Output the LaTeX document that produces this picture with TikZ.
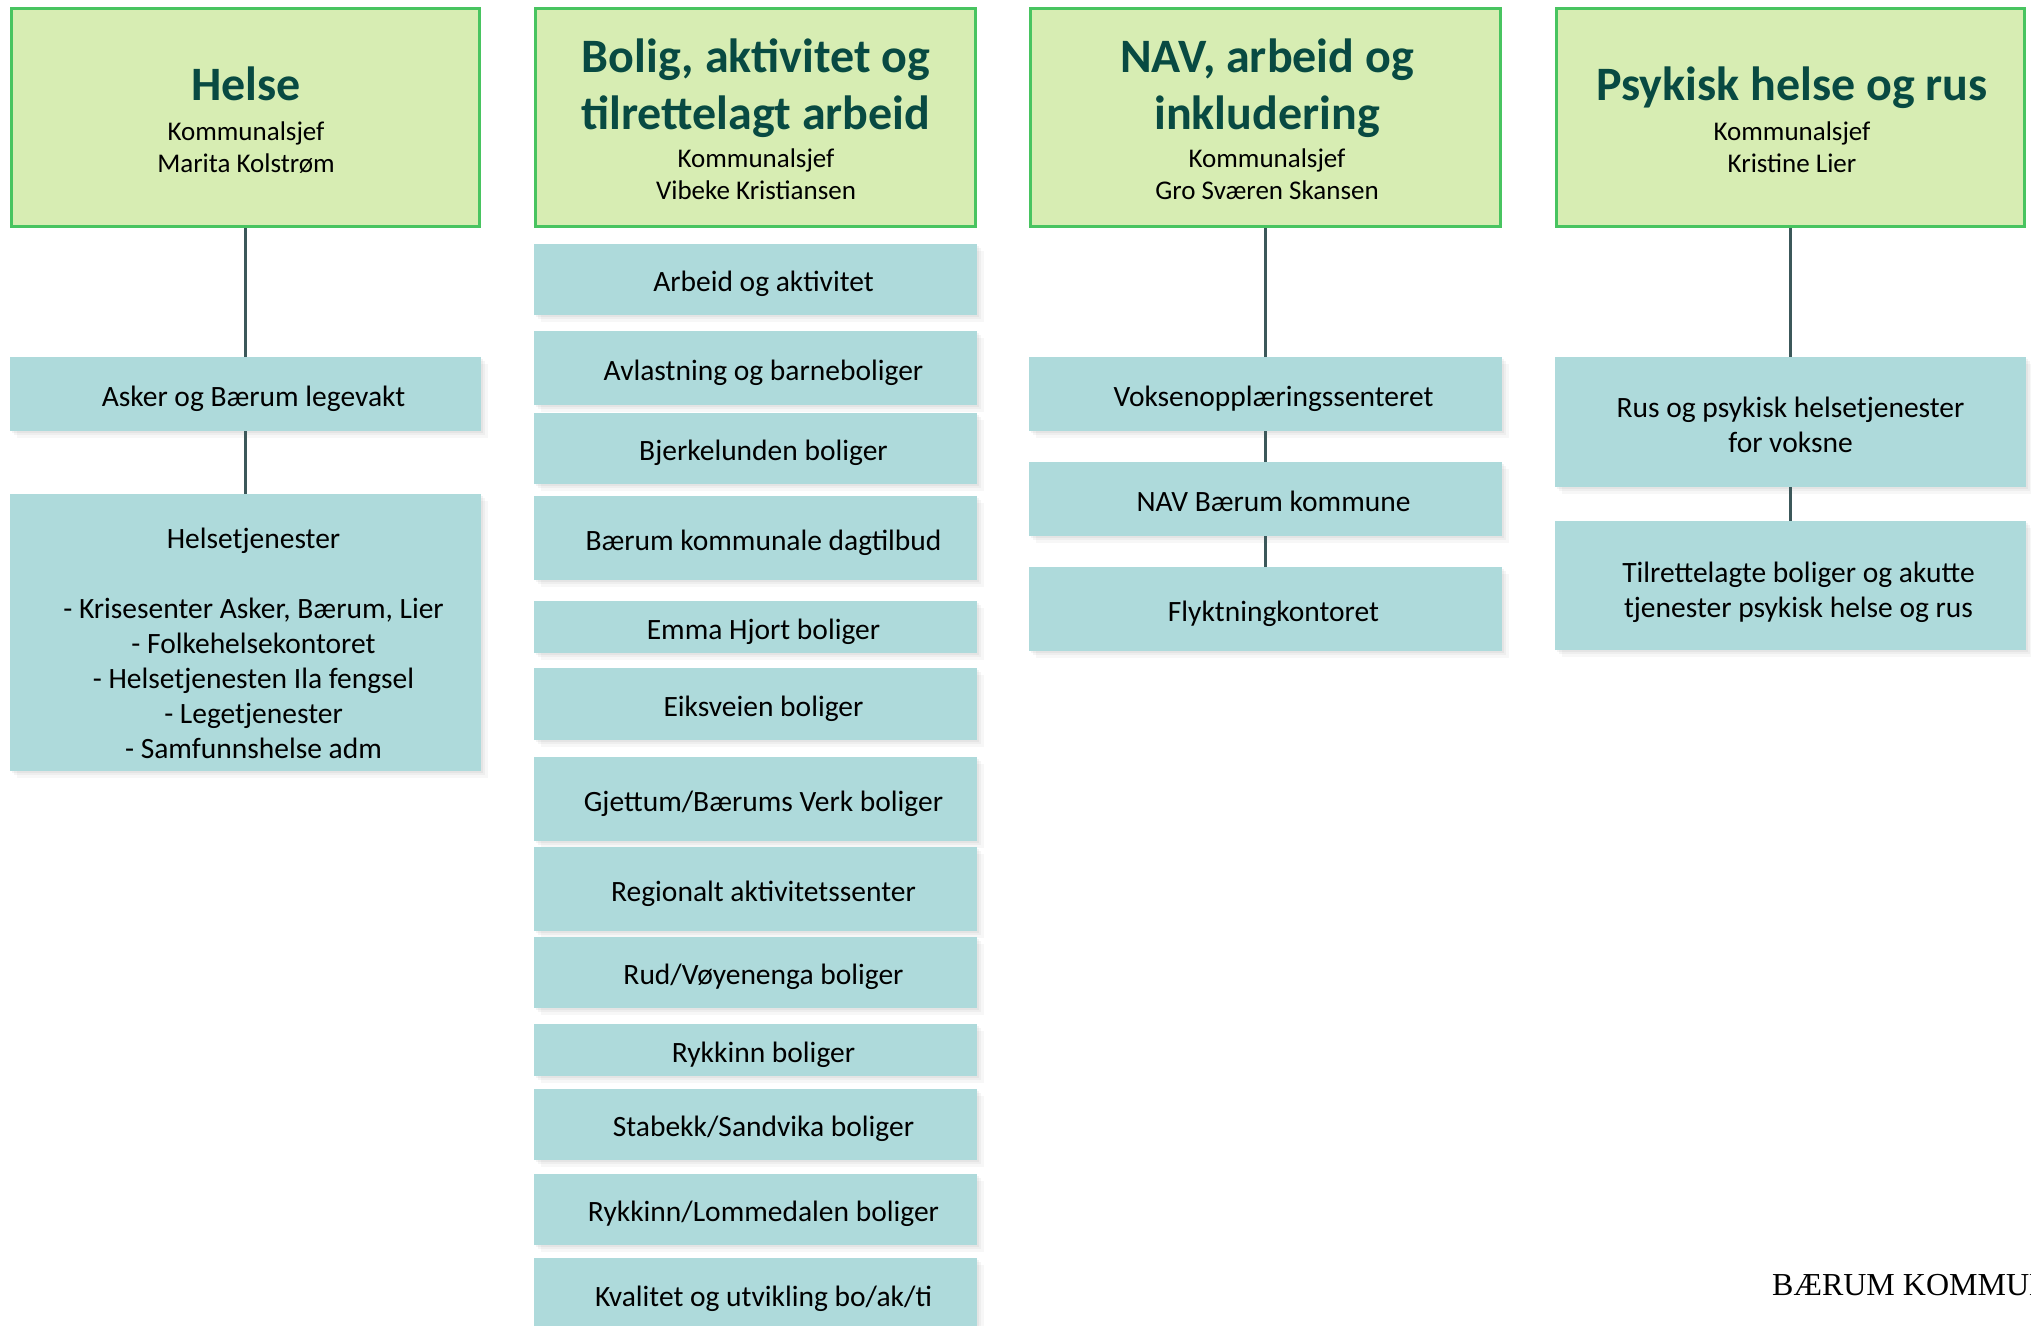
\documentclass[tikz,border=0pt]{standalone}
\usepackage{fontspec}
\setmainfont{Carlito}
\newfontfamily\serifrm{Liberation Serif}
\usetikzlibrary{shadows}
\definecolor{gfill}{RGB}{215,237,179}
\definecolor{gline}{RGB}{72,196,96}
\definecolor{ttlcol}{RGB}{8,74,66}
\definecolor{tfill}{RGB}{174,218,219}
\definecolor{conncol}{RGB}{60,88,90}
\newcommand\tsh{\hspace*{16pt}}
\tikzset{
 softshadow/.style={
   drop shadow={shadow xshift=2pt, shadow yshift=-2pt, opacity=0.06, fill=black!70},
   drop shadow={shadow xshift=4pt, shadow yshift=-4pt, opacity=0.05, fill=black!70},
   drop shadow={shadow xshift=7pt, shadow yshift=-7pt, opacity=0.04, fill=black!70}},
 gbox/.style={rectangle, fill=gfill, draw=gline, line width=3pt, inner sep=0pt},
 tbox/.style={rectangle, fill=tfill, inner sep=0pt, align=center,
   font=\fontsize{29.5pt}{35pt}\selectfont, text height=26pt, text depth=2pt, softshadow},
 bcol/.style={tbox, minimum width=443pt},
 wcol/.style={tbox, minimum width=471pt},
 ttl/.style={font=\fontsize{48pt}{57pt}\selectfont\bfseries, text=ttlcol, anchor=base, inner sep=0pt, align=center},
 subt/.style={font=\fontsize{27pt}{32pt}\selectfont, anchor=base, inner sep=0pt, align=center},
 conn/.style={draw=conncol, line width=3pt},
}
\begin{document}
\begin{tikzpicture}[x=1pt,y=-1pt]
\useasboundingbox (0,0) rectangle (2031,1325);
\clip (0,0) rectangle (2031,1325);
\fill[white] (0,0) rectangle (2031,1325);

% ---- header boxes
\node[gbox, minimum width=468pt, minimum height=218pt] (helse) at (245.5,117.5) {};
\node[gbox, minimum width=440pt, minimum height=218pt] (bolig) at (755.5,117.5) {};
\node[gbox, minimum width=470pt, minimum height=218pt] (nav) at (1265.5,117.5) {};
\node[gbox, minimum width=468pt, minimum height=218pt] (psyk) at (1790.5,117.5) {};

\node[ttl] (helse-t) at (246,100) {Helse};
\node[subt] (helse-s) at (246,172) {Kommunalsjef\\Marita Kolstrøm};
\node[ttl] (bolig-t) at (756,129) {Bolig, aktivitet og\\tilrettelagt arbeid};
\node[subt] (bolig-s) at (756,199) {Kommunalsjef\\Vibeke Kristiansen};
\node[ttl] (nav-t) at (1267,129) {NAV, arbeid og\\inkludering};
\node[subt] (nav-s) at (1267,199) {Kommunalsjef\\Gro Sværen Skansen};
\node[ttl] (psyk-t) at (1792,100) {Psykisk helse og rus};
\node[subt] (psyk-s) at (1792,172) {Kommunalsjef\\Kristine Lier};

% ---- Helse column
\node[wcol, minimum height=74pt] (asker) at (245.5,394) {\tsh Asker og Bærum legevakt};
\node[wcol, minimum height=277pt, text height=253pt] (helsetj) at (245.5,632.5)
  {\tsh Helsetjenester\\ \\
   \tsh - Krisesenter Asker, Bærum, Lier\\
   \tsh - Folkehelsekontoret\\
   \tsh - Helsetjenesten Ila fengsel\\
   \tsh - Legetjenester\\
   \tsh - Samfunnshelse adm};

% ---- Bolig column
\node[bcol, minimum height=71pt] (b1) at (755.5,279.5) {\tsh Arbeid og aktivitet};
\node[bcol, minimum height=74pt] (b2) at (755.5,368) {\tsh Avlastning og barneboliger};
\node[bcol, minimum height=71pt] (b3) at (755.5,448.5) {\tsh Bjerkelunden boliger};
\node[bcol, minimum height=84pt] (b4) at (755.5,538) {\tsh Bærum kommunale dagtilbud};
\node[bcol, minimum height=52pt] (b5) at (755.5,627) {\tsh Emma Hjort boliger};
\node[bcol, minimum height=72pt] (b6) at (755.5,704) {\tsh Eiksveien boliger};
\node[bcol, minimum height=84pt] (b7) at (755.5,799) {\tsh Gjettum/Bærums Verk boliger};
\node[bcol, minimum height=84pt] (b8) at (755.5,889) {\tsh Regionalt aktivitetssenter};
\node[bcol, minimum height=71pt] (b9) at (755.5,972.5) {\tsh Rud/Vøyenenga boliger};
\node[bcol, minimum height=52pt] (b10) at (755.5,1050) {\tsh Rykkinn boliger};
\node[bcol, minimum height=71pt] (b11) at (755.5,1124.5) {\tsh Stabekk/Sandvika boliger};
\node[bcol, minimum height=71pt] (b12) at (755.5,1209.5) {\tsh Rykkinn/Lommedalen boliger};
\node[bcol, minimum height=72pt] (b13) at (755.5,1294) {\tsh Kvalitet og utvikling bo/ak/ti};

% ---- NAV column
\node[wcol, minimum width=473pt, minimum height=74pt] (vo) at (1265.5,394) {\tsh Voksenopplæringssenteret};
\node[wcol, minimum width=473pt, minimum height=74pt] (navb) at (1265.5,499) {\tsh NAV Bærum kommune};
\node[wcol, minimum width=473pt, minimum height=84pt] (fly) at (1265.5,609) {\tsh Flyktningkontoret};

% ---- Psyk column
\node[wcol, minimum height=130pt, text height=62pt] (rus) at (1790.5,422) {Rus og psykisk helsetjenester\\for voksne};
\node[wcol, minimum height=129pt, text height=65pt] (tilr) at (1790.5,585.5) {\tsh Tilrettelagte boliger og akutte\\ \tsh tjenester psykisk helse og rus};

% ---- connectors
\draw[conn] (helse.south) -- (asker.north);
\draw[conn] (asker.south) -- (helsetj.north);
\draw[conn] (nav.south) -- (vo.north);
\draw[conn] (vo.south) -- (navb.north);
\draw[conn] (navb.south) -- (fly.north);
\draw[conn] (psyk.south) -- (rus.north);
\draw[conn] (rus.south) -- (tilr.north);

% ---- footer
\node[font=\serifrm\fontsize{32pt}{38pt}\selectfont, anchor=base west, inner sep=0pt] (footer) at (1772,1295) {BÆRUM KOMMUNE};
\end{tikzpicture}
\end{document}
